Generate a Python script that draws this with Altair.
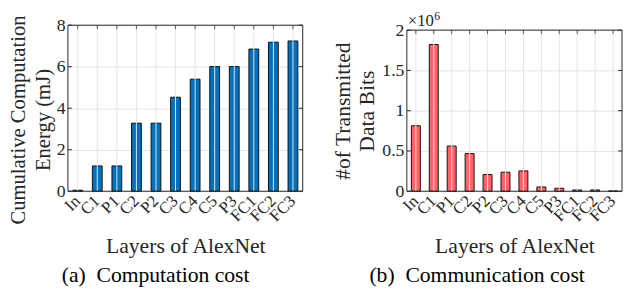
import altair as alt
import pandas as pd

# ---------------- data ----------------
layers = ["In", "C1", "P1", "C2", "P2", "C3", "C4", "C5", "P3", "FC1", "FC2", "FC3"]
energy_mj = [0.05, 1.22, 1.22, 3.28, 3.28, 4.53, 5.40, 6.01, 6.01, 6.85, 7.18, 7.24]
tx_bits = [813000, 1821000, 561000, 467000, 207000, 236000, 252000, 53000, 37000, 16000, 16000, 4000]
energy_ticks = [0, 2, 4, 6, 8]
bits_ticks = [0, 0.5, 1, 1.5, 2]  # in units of 10^6 bits

FONT = "Liberation Serif"
TXT = "#262626"
GRID = "#e4e4e4"
BLUE = "#0072BD"
RED = "#FF6464"
H = 169
W1, W2 = 239, 219


def panel(values, color, frame_top, ydom_max, ticks, ytitle, title_y, title_size, caption, width, extra=None):
    df = pd.DataFrame({"layer": layers, "v": values})
    tdf = pd.DataFrame({"v": ticks})
    ldf = pd.DataFrame({"layer": layers})
    xs = alt.Scale(domain=layers, paddingInner=0.5, paddingOuter=0.25)
    ys = alt.Scale(domain=[0, ydom_max], nice=False, zero=True)

    xaxis = alt.Axis(
        title="Layers of AlexNet", labelAngle=-45, labelAlign="right", labelBaseline="middle",
        labelFontSize=17, labelPadding=7, ticks=False, domain=False, grid=False,
        titleFontSize=22, titlePadding=12, labelFont=FONT, titleFont=FONT,
        labelColor=TXT, titleColor=TXT, titleFontWeight="normal",
    )
    yaxis = alt.Axis(
        values=ticks, format="~g", title=ytitle, ticks=False, domain=False, grid=True,
        gridColor=GRID, gridWidth=1, labelFontSize=18, labelPadding=3, labelFont=FONT,
        labelColor=TXT, titleFont=FONT, titleFontSize=title_size, titleFontWeight="normal",
        titleColor=TXT, titlePadding=3, titleLineHeight=25, titleY=title_y,
    )
    X = alt.X("layer:N", scale=xs, axis=xaxis, sort=layers)
    Y = alt.Y("v:Q", scale=ys, axis=yaxis)

    bars = alt.Chart(df).mark_bar(color=color, stroke="#111111", strokeWidth=1).encode(x=X, y=Y)
    vgrid = alt.Chart(ldf).mark_rule(color=GRID, strokeWidth=1).encode(
        x=X, y=alt.datum(0), y2=alt.datum(frame_top),
    )
    frame = alt.Chart(ldf.head(1)).mark_rect(fillOpacity=0, stroke=TXT, strokeWidth=1).encode(
        x=alt.value(0), x2=alt.value(width),
        y=alt.datum(frame_top), y2=alt.datum(0),
    )
    lticks = alt.Chart(tdf).mark_rule(color=TXT, strokeWidth=1).encode(
        y=Y, x=alt.value(0), x2=alt.value(4),
    )
    rticks = alt.Chart(tdf).mark_rule(color=TXT, strokeWidth=1).encode(
        y=Y, x=alt.value(width - 4), x2=alt.value(width),
    )
    tticks = alt.Chart(ldf).mark_tick(orient="vertical", size=4, thickness=1, yOffset=2, color=TXT).encode(
        x=X, y=alt.datum(frame_top),
    )
    parts = [bars, vgrid, frame, lticks, rticks, tticks]
    if extra is not None:
        parts += extra
    return alt.layer(*parts).properties(
        width=width, height=H,
        title=alt.TitleParams(caption, orient="bottom", fontSize=22, font=FONT,
                              fontWeight="normal", color="#000000", offset=9,
                              frame="bounds", anchor="middle"),
    )


left = panel(energy_mj, BLUE, 8, 8, energy_ticks,
             ["Cumulative Computation", "Energy (mJ)"], 96, 21,
             "(a)\u00a0 Computation cost", W1)

# right panel: frame top (2.0) sits 5 px lower than the left panel's top
r_dom = 2 * H / (H - 5)
sci = alt.Chart(pd.DataFrame({"s": ["\u00d710"]})).mark_text(
    align="left", baseline="alphabetic", fontSize=17, font=FONT, color=TXT, dy=-4
).encode(text="s:N", x=alt.value(1), y=alt.datum(2))
sci6 = alt.Chart(pd.DataFrame({"s": ["6"]})).mark_text(
    align="left", baseline="alphabetic", fontSize=12, font=FONT, color=TXT, dy=-10
).encode(text="s:N", x=alt.value(28), y=alt.datum(2))

right = panel([b / 1e6 for b in tx_bits], RED, 2, r_dom, bits_ticks,
              ["#of Transmitted", "Data Bits"], 87, 22,
              "(b)\u00a0 Communication cost", W2, extra=[sci, sci6])

chart = alt.hconcat(left, right, spacing=28).properties(padding=0).configure_view(strokeWidth=0)

chart.save("out.html", embed_options={"renderer": "svg", "actions": False})
